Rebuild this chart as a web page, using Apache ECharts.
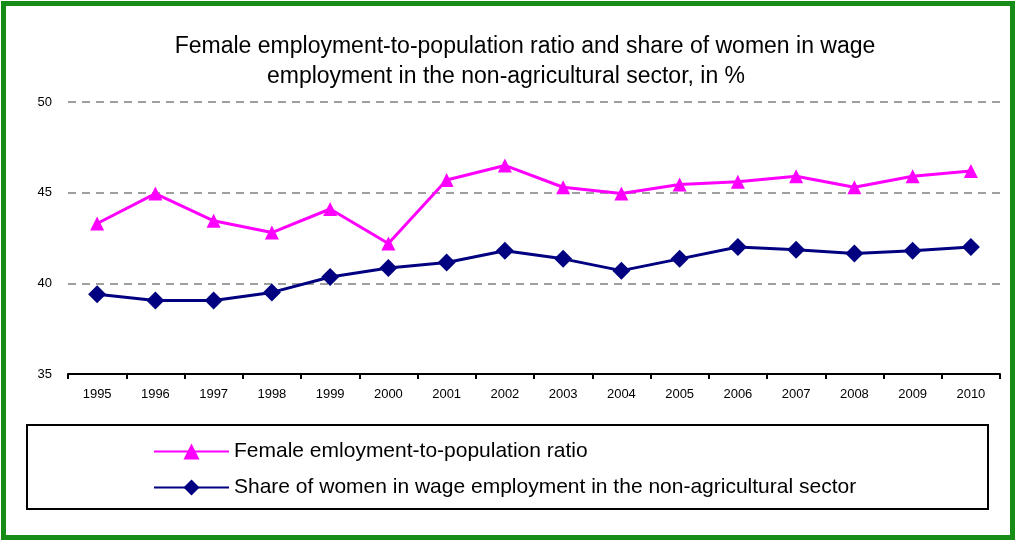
<!DOCTYPE html>
<html><head><meta charset="utf-8">
<script src="https://cdn.jsdelivr.net/npm/echarts@6/dist/echarts.min.js"></script>
<style>html,body{margin:0;padding:0;background:#fff}#c{width:1016px;height:541px}</style>
</head><body><div id="c"></div>
<script>
const years = ['1995','1996','1997','1998','1999','2000','2001','2002','2003','2004','2005','2006','2007','2008','2009','2010'];
const femaleRatio = [43.3,44.95,43.45,42.8,44.1,42.2,45.7,46.5,45.3,44.95,45.45,45.6,45.9,45.3,45.9,46.2];
const wageShare = [39.4,39.05,39.05,39.5,40.35,40.85,41.15,41.8,41.35,40.7,41.35,42.0,41.85,41.65,41.8,42.0];
const yTicks = {min:35, max:50, interval:5};
const titleLines = ['Female employment-to-population ratio and share of women in wage','employment in the non-agricultural sector, in %'];
const seriesNames = ['Female emloyment-to-population ratio','Share of women in wage employment in the non-agricultural sector'];

const FONT = 'Liberation Sans, Arial, sans-serif';
const chart = echarts.init(document.getElementById('c'));
chart.setOption({
  animation:false,
  backgroundColor:'#fff',
  textStyle:{fontFamily:FONT},
  title:[
    {text:titleLines[0], left:520, top:30, textAlign:'center',
     textStyle:{fontSize:23, fontWeight:'normal', color:'#000', fontFamily:FONT}},
    {text:titleLines[1], left:501, top:60, textAlign:'center',
     textStyle:{fontSize:23, fontWeight:'normal', color:'#000', fontFamily:FONT}}
  ],
  graphic:[
    {type:'rect', shape:{x:3.5,y:3.5,width:1009,height:534}, style:{fill:'none', stroke:'#178c17', lineWidth:5}, z:100},
    {type:'rect', shape:{x:27,y:425,width:961,height:84}, style:{fill:'none', stroke:'#000', lineWidth:2}, z:100}
  ],
  legend:{
    orient:'vertical', left:148, top:436, itemGap:15, itemWidth:75, itemHeight:20,
    textStyle:{fontSize:21, color:'#000', fontFamily:FONT},
    data: seriesNames
  },
  grid:{left:68, right:16, top:102, bottom:167, containLabel:false},
  xAxis:{
    type:'category', data:years, boundaryGap:true,
    axisLine:{show:true, lineStyle:{color:'#000', width:2}},
    axisTick:{show:true, length:5, lineStyle:{color:'#000', width:2}},
    axisLabel:{fontSize:13, color:'#000', margin:14},
    splitLine:{show:false}
  },
  yAxis:{
    type:'value', min:yTicks.min, max:yTicks.max, interval:yTicks.interval,
    axisLine:{show:false}, axisTick:{show:false},
    axisLabel:{fontSize:13, color:'#000', margin:16},
    splitLine:{show:true, lineStyle:{color:'#808080', type:[8,6], width:1.5}}
  },
  series:[
    {name:seriesNames[0], type:'line', data:femaleRatio, symbol:'triangle', symbolSize:14,
     lineStyle:{color:'#ff00ff', width:3}, itemStyle:{color:'#ff00ff'}},
    {name:seriesNames[1], type:'line', data:wageShare, symbol:'diamond', symbolSize:18,
     lineStyle:{color:'#000080', width:3}, itemStyle:{color:'#000080'}}
  ]
});
</script></body></html>
